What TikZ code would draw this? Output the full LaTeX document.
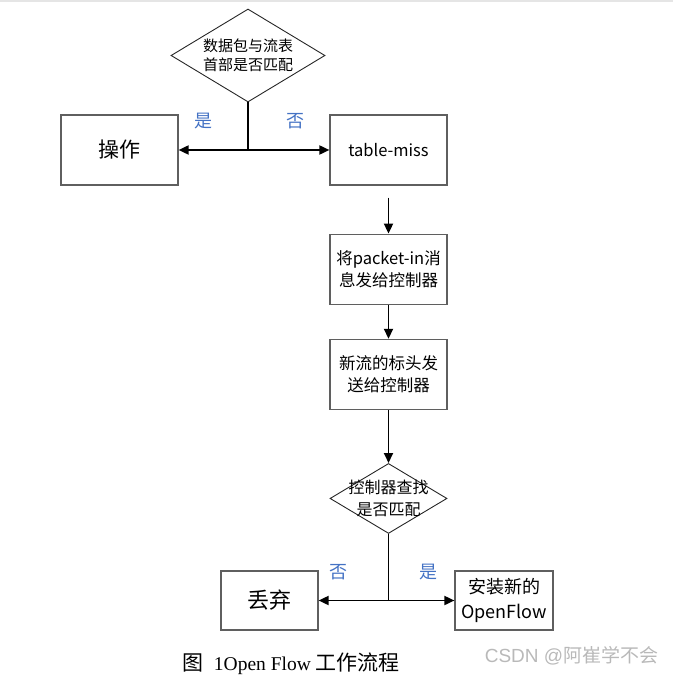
\documentclass[tikz,border=0pt]{standalone}
\usepackage{fontspec}
\setmainfont{Noto Sans CJK SC}
\newfontfamily\capserif{Liberation Serif}
\newfontfamily\marksans{Liberation Sans}
\usetikzlibrary{arrows.meta,shapes.geometric,positioning,calc}
\definecolor{labelblue}{RGB}{68,114,196}
\definecolor{framegray}{RGB}{95,95,95}
\definecolor{markgray}{RGB}{185,185,185}
\tikzset{
    box/.style={
        rectangle,
        draw=framegray,
        line width=1.2pt,
        minimum width=117pt,
        minimum height=70pt,
        align=center,
        inner sep=0pt,
        font=\fontsize{16.5}{22}\selectfont,
    },
    decision/.style={
        diamond,
        draw=black!85,
        line width=0.9pt,
        inner sep=0pt,
    },
    yesno/.style={
        text=labelblue,
        font=\fontsize{18}{18}\selectfont,
    },
    flow/.style={
        line width=1.8pt,
    },
}

\begin{document}
\begin{tikzpicture}[x=1pt,y=-1pt,>={Triangle[length=10pt,width=9pt]}]
    \useasboundingbox (0,0) rectangle (673,676);
    \draw[gray!20,line width=1.5pt] (0,1) -- (673,1);

    % first test
    \node [decision,minimum width=154pt,minimum height=93pt,
        label={[align=center,font=\fontsize{15}{19}\selectfont]center:数据包与流表\\首部是否匹配}]
        (match) at (248,55.5) {};
    \node [box] (act) at (119.5,150) {\fontsize{21}{21}\selectfont 操作};
    \node [box] (miss) at (388.5,150) {table-miss};
    \coordinate (fork1) at (match.south |- act.east);

    % controller path
    \node [box] (send) [below=48pt of miss] {将packet-in消\\息发给控制器};
    \node [box] (hdr) [below=34pt of send] {新流的标头发\\送给控制器};
    \node [decision,minimum width=117pt,minimum height=70pt,
        label={[align=center,font=\fontsize{16}{22}\selectfont]center:控制器查找\\是否匹配}]
        (check) [below=53pt of hdr] {};
    \node [box,minimum width=97pt,minimum height=59pt] (drop) at (269.5,600.5) {\fontsize{22}{22}\selectfont 丢弃};
    \node [box,minimum width=98pt,minimum height=59pt,font=\fontsize{18}{25}\selectfont] (install) at (504,600.5) {安装新的\\OpenFlow};
    \coordinate (fork2) at (check.south |- drop.east);

    \node [yesno] (yes1) at (203,121) {是};
    \node [yesno] (no1) at (295,121) {否};
    \node [yesno] (no2) at (338,572) {否};
    \node [yesno] (yes2) at (428,572) {是};

    \draw[flow] (match.south) -- (fork1);
    \draw[flow,->] (fork1) -- (act.east);
    \draw[flow,->] (fork1) -- (miss.west);
    \draw[flow,->,shorten <=12pt] (miss) -- (send);
    \draw[flow,->] (send) -- (hdr);
    \draw[flow,->] (hdr) -- (check);
    \draw[flow] (check.south) -- (fork2);
    \draw[flow,->] (fork2) -- (drop.east);
    \draw[flow,->] (fork2) -- (install.west);

    \node (caption) at (291,664) {\fontsize{21}{21}\selectfont 图\hspace{0.5em}{\capserif\fontsize{19.5}{21}\selectfont 1Open Flow} 工作流程};
    \node [text=markgray] (mark) at (571.5,656) {{\marksans\fontsize{19}{19}\selectfont CSDN @}\fontsize{19}{19}\selectfont 阿崔学不会};
\end{tikzpicture}
\end{document}
